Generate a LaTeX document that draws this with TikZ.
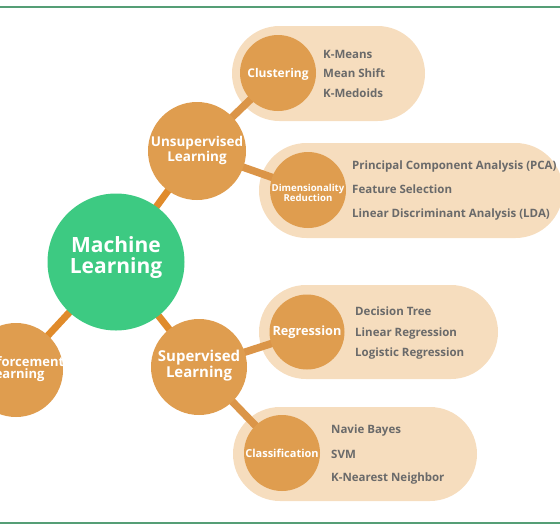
\documentclass[tikz,border=0pt]{standalone}
\usepackage{fontspec}
\setmainfont{Open Sans}
\usetikzlibrary{backgrounds}
\definecolor{mlgreen}{HTML}{3DCA82}
\definecolor{circorange}{HTML}{DF9D4F}
\definecolor{linkone}{HTML}{E08B2B}
\definecolor{linktwo}{HTML}{DB9548}
\definecolor{pillbg}{HTML}{F6DDBE}
\definecolor{itemgrey}{HTML}{6A6A6A}
\definecolor{rulegreen}{HTML}{559E76}
\tikzset{
  ball/.style={circle, fill=circorange, inner sep=0pt, minimum size=#1},
  lbl/.style={text=white, align=center, inner sep=0pt},
  item/.style={text=itemgrey, anchor=base west, inner sep=0pt, font=\bfseries\fontsize{11.5}{13}\selectfont},
  pill/.style={fill=pillbg, rounded corners=#1},
  linkA/.style={draw=linkone, line width=7pt},
  linkB/.style={draw=linktwo, line width=7.5pt},
}
\begin{document}
\begin{tikzpicture}[x=1pt,y=-1pt]
\useasboundingbox (0,0) rectangle (560,531);
\clip (0,0) rectangle (560,531);
% rules
\draw[rulegreen, line width=1.8pt] (0,7) -- (560,7);
\draw[rulegreen, line width=1.8pt] (0,523) -- (560,523);
% circles
\node[circle, fill=mlgreen, inner sep=0pt, minimum size=137pt] (ml) at (116,262) {};
\node[ball=98pt] (unsup) at (197,151) {};
\node[ball=96pt] (sup) at (199,367) {};
\node[ball=94pt] (reinf) at (16,370) {};
\node[ball=76pt] (clus) at (278,73) {};
\node[ball=76pt] (dim) at (308,190) {};
\node[ball=75pt] (reg) at (307,332) {};
\node[ball=76pt] (cls) at (282,453) {};
% pills and connectors behind
\begin{pgfonlayer}{background}
\fill[pill=47.5pt] (232,26) rectangle (425,121);
\fill[pill=47.5pt] (259,143) rectangle (563,238);
\fill[pill=47pt] (259,285) rectangle (498,379);
\fill[pill=47pt] (233,407) rectangle (477,501);
\draw[linkA] (ml.center) -- (unsup.center);
\draw[linkA] (ml.center) -- (sup.center);
\draw[linkA] (ml.center) -- (reinf.center);
\draw[linkB] (unsup.center) -- (clus.center);
\draw[linkB] (unsup.center) -- (dim.center);
\draw[linkB] (sup.center) -- (reg.center);
\draw[linkB] (sup.center) -- (cls.center);
\end{pgfonlayer}
% circle labels
\node[lbl, font=\bfseries\fontsize{21}{21}\selectfont] (mltxt) at (116,258) {Machine\\Learning};
\node[lbl, font=\bfseries\fontsize{13.5}{12}\selectfont] (unsuptxt) at (197,150.5) {Unsupervised\\Learning};
\node[lbl, font=\bfseries\fontsize{15}{14.5}\selectfont] (suptxt) at (199,366) {Supervised\\Learning};
\node[lbl, font=\bfseries\fontsize{13}{12}\selectfont] (reinftxt) at (16,369.5) {Reinforcement\\Learning};
\node[lbl, anchor=base, font=\bfseries\fontsize{12}{12}\selectfont] (clustxt) at (278,77) {Clustering};
\node[lbl, font=\bfseries\fontsize{9.6}{8.8}\selectfont] (dimtxt) at (308,193) {Dimensionality\\Reduction};
\node[lbl, anchor=base, font=\bfseries\fontsize{12.7}{12}\selectfont] (regtxt) at (307,335) {Regression};
\node[lbl, anchor=base, font=\bfseries\fontsize{11}{11}\selectfont] (clstxt) at (282,457) {Classification};
% items
\node[item] (c1) at (323,58) {K-Means};
\node[item] (c2) at (323,77) {Mean Shift};
\node[item] (c3) at (323,97) {K-Medoids};
\node[item] (d1) at (352,169) {Principal Component Analysis (PCA)};
\node[item] (d2) at (352,193) {Feature Selection};
\node[item] (d3) at (352,217) {Linear Discriminant Analysis (LDA)};
\node[item] (r1) at (355,315) {Decision Tree};
\node[item] (r2) at (355,336) {Linear Regression};
\node[item] (r3) at (355,356) {Logistic Regression};
\node[item] (k1) at (331,433) {Navie Bayes};
\node[item] (k2) at (331,458) {SVM};
\node[item] (k3) at (331,481) {K-Nearest Neighbor};
\end{tikzpicture}
\end{document}
